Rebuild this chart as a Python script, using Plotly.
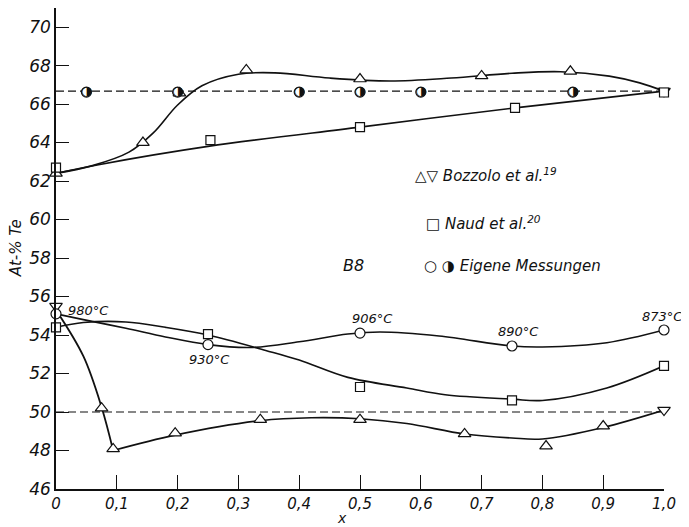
import plotly.graph_objects as go

# ---------------- data ----------------
# upper branch (Te-rich boundary)
boz_up_x = [0.0, 0.143, 0.203, 0.313, 0.50, 0.70, 0.846]
boz_up_y = [62.4, 64.0, 66.57, 67.77, 67.3, 67.46, 67.7]
boz_up_dn_x = [1.0]
boz_up_dn_y = [66.67]
boz_up_curve_x = [0.0, 0.06, 0.12, 0.16, 0.20, 0.24, 0.30, 0.36, 0.45, 0.55, 0.65, 0.75, 0.83, 0.91, 0.96, 1.0]
boz_up_curve_y = [62.4, 62.8, 63.5, 64.5, 65.95, 66.95, 67.55, 67.62, 67.35, 67.2, 67.35, 67.6, 67.68, 67.45, 67.1, 66.67]

naud_up_x = [0.0, 0.254, 0.50, 0.755, 1.0]
naud_up_y = [62.7, 64.13, 64.8, 65.8, 66.6]
naud_up_curve_x = [0.0, 0.07, 0.25, 0.50, 0.755, 1.0]
naud_up_curve_y = [62.4, 62.85, 63.8, 64.8, 65.8, 66.67]

eig_up_x = [0.05, 0.20, 0.40, 0.50, 0.60, 0.85]
eig_up_y = [66.62, 66.62, 66.62, 66.62, 66.62, 66.62]

ref_up_x = [0.0, 1.0]
ref_up_y = [66.67, 66.67]
ref_lo_x = [0.0, 1.0]
ref_lo_y = [50.0, 50.0]

# lower branch
eig_lo_x = [0.0, 0.25, 0.50, 0.75, 1.0]
eig_lo_y = [55.1, 53.5, 54.1, 53.43, 54.26]
eig_lo_t = ["980°C", "930°C", "906°C", "890°C", "873°C"]
eig_lo_curve_x = [0.0, 0.045, 0.115, 0.18, 0.25, 0.32, 0.40, 0.48, 0.533, 0.63, 0.75, 0.80, 0.906, 1.0]
eig_lo_curve_y = [55.1, 54.8, 54.35, 53.9, 53.5, 53.35, 53.65, 54.05, 54.16, 53.95, 53.43, 53.38, 53.6, 54.26]

naud_lo_x = [0.0, 0.25, 0.50, 0.75, 1.0]
naud_lo_y = [54.4, 54.05, 51.3, 50.6, 52.4]
naud_lo_curve_x = [0.0, 0.045, 0.115, 0.18, 0.25, 0.345, 0.40, 0.48, 0.577, 0.64, 0.75, 0.80, 0.906, 1.0]
naud_lo_curve_y = [54.4, 54.65, 54.68, 54.4, 54.0, 53.2, 52.7, 51.8, 51.25, 50.9, 50.67, 50.6, 51.25, 52.4]

boz_lo_x = [0.075, 0.094, 0.196, 0.336, 0.50, 0.672, 0.806, 0.90]
boz_lo_y = [50.2, 48.08, 48.9, 49.6, 49.6, 48.86, 48.23, 49.27]
boz_lo_dn_x = [0.0, 1.0]
boz_lo_dn_y = [55.5, 50.1]
boz_lo_seg1_x = [0.0, 0.045, 0.075, 0.094]
boz_lo_seg1_y = [55.3, 52.9, 50.25, 48.0]
boz_lo_seg2_x = [0.094, 0.196, 0.336, 0.42, 0.50, 0.577, 0.672, 0.75, 0.80, 0.90, 1.0]
boz_lo_seg2_y = [48.0, 48.8, 49.55, 49.7, 49.65, 49.4, 48.86, 48.65, 48.6, 49.2, 50.1]

x_ticks = [0.0, 0.1, 0.2, 0.3, 0.4, 0.5, 0.6, 0.7, 0.8, 0.9, 1.0]
x_tick_text = ["0", "0,1", "0,2", "0,3", "0,4", "0,5", "0,6", "0,7", "0,8", "0,9", "1,0"]
y_ticks = [46, 48, 50, 52, 54, 56, 58, 60, 62, 64, 66, 68, 70]

# ---------------- figure ----------------
FONT = "DejaVu Sans"
BLACK = "#111111"
fig = go.Figure()

def curve(x, y, width=1.6, dash="solid", shape="spline"):
    fig.add_trace(go.Scatter(x=x, y=y, mode="lines", line=dict(color=BLACK, width=width, dash=dash, shape=shape, smoothing=1.0),
                             hoverinfo="skip", showlegend=False, cliponaxis=False))

def marks(x, y, symbol, size):
    fig.add_trace(go.Scatter(x=x, y=y, mode="markers",
                             marker=dict(symbol=symbol, size=size, color="white", line=dict(color=BLACK, width=1.2)),
                             showlegend=False, cliponaxis=False))

# reference dashed lines
curve(ref_up_x, ref_up_y, width=1.1, dash="8px,4px", shape="linear")
curve(ref_lo_x, ref_lo_y, width=1.1, dash="8px,4px", shape="linear")

# curves
curve(boz_up_curve_x, boz_up_curve_y)
curve(naud_up_curve_x, naud_up_curve_y)
curve(eig_lo_curve_x, eig_lo_curve_y)
curve(naud_lo_curve_x, naud_lo_curve_y)
curve(boz_lo_seg1_x, boz_lo_seg1_y, width=1.8)
curve(boz_lo_seg2_x, boz_lo_seg2_y)

# markers
marks(boz_up_x, boz_up_y, "triangle-up", 11)
marks(boz_up_dn_x, boz_up_dn_y, "triangle-down", 11)
marks(naud_up_x, naud_up_y, "square", 9)
marks(boz_lo_x, boz_lo_y, "triangle-up", 11)
marks(boz_lo_dn_x, boz_lo_dn_y, "triangle-down", 11)
marks(naud_lo_x, naud_lo_y, "square", 9)
marks(eig_lo_x, eig_lo_y, "circle", 10)

# half-filled circles (right half black)
fig.add_trace(go.Scatter(x=eig_up_x, y=eig_up_y, mode="markers",
                         marker=dict(symbol="circle", size=10, color="white", line=dict(color=BLACK, width=1.2)),
                         showlegend=False, cliponaxis=False))
fig.add_trace(go.Scatter(x=eig_up_x, y=eig_up_y, mode="text", text=["◑"] * len(eig_up_x),
                         textposition="middle center", textfont=dict(family=FONT, size=13, color=BLACK),
                         showlegend=False, cliponaxis=False))

# temperature labels
temp_pos = [(0.053, 55.3), (0.253, 52.75), (0.52, 54.85), (0.76, 54.2), (0.997, 54.95)]
for (px, py), t in zip(temp_pos, eig_lo_t):
    fig.add_annotation(x=px, y=py, text="<i>" + t + "</i>", showarrow=False,
                       font=dict(family=FONT, size=13, color=BLACK), xanchor="center", yanchor="middle")

# in-plot legend
leg = [
    (0.587, 62.3, "△▽ <i>Bozzolo et al.</i><sup><i>19</i></sup>"),
    (0.606, 59.8, "□ <i>Naud et al.</i><sup><i>20</i></sup>"),
    (0.602, 57.6, "○ ◑ <i>Eigene Messungen</i>"),
]
for lx, ly, t in leg:
    fig.add_annotation(x=lx, y=ly, text=t, showarrow=False, xanchor="left", yanchor="middle",
                       font=dict(family=FONT, size=15, color=BLACK))
fig.add_annotation(x=0.49, y=57.6, text="<i>B8</i>", showarrow=False, xanchor="center", yanchor="middle",
                   font=dict(family=FONT, size=16, color=BLACK))

# axis titles
fig.add_annotation(xref="paper", yref="paper", x=-0.066, y=0.50, text="<i>At-% Te</i>", textangle=-90,
                   xanchor="center", yanchor="middle",
                   showarrow=False, font=dict(family=FONT, size=15, color=BLACK))
fig.add_annotation(xref="paper", yref="paper", x=0.47, y=-0.061, text="<i>x</i>",
                   xanchor="center", yanchor="middle",
                   showarrow=False, font=dict(family=FONT, size=14, color=BLACK))

# the page adds an 8px body margin, so the plot area is shifted by it here
fig.update_layout(
    width=689, height=527,
    margin=dict(l=48, r=33, t=0, b=46, autoexpand=False),
    paper_bgcolor="white", plot_bgcolor="white",
    showlegend=False,
)
fig.update_xaxes(range=[0, 1.0], tickvals=x_ticks, ticktext=x_tick_text, automargin=False,
                 ticks="inside", ticklen=14, tickwidth=1.2, tickcolor=BLACK,
                 showline=True, linecolor=BLACK, linewidth=1.5, showgrid=False, zeroline=False,
                 tickfont=dict(family=FONT, size=15, color=BLACK, style="italic"))
fig.update_yaxes(range=[46, 70.99], tickvals=y_ticks, automargin=False,
                 ticks="inside", ticklen=13, tickwidth=1.2, tickcolor=BLACK,
                 showline=True, linecolor=BLACK, linewidth=1.5, showgrid=False, zeroline=False,
                 tickfont=dict(family=FONT, size=17, color=BLACK, style="italic"))

fig.write_html("out.html")
